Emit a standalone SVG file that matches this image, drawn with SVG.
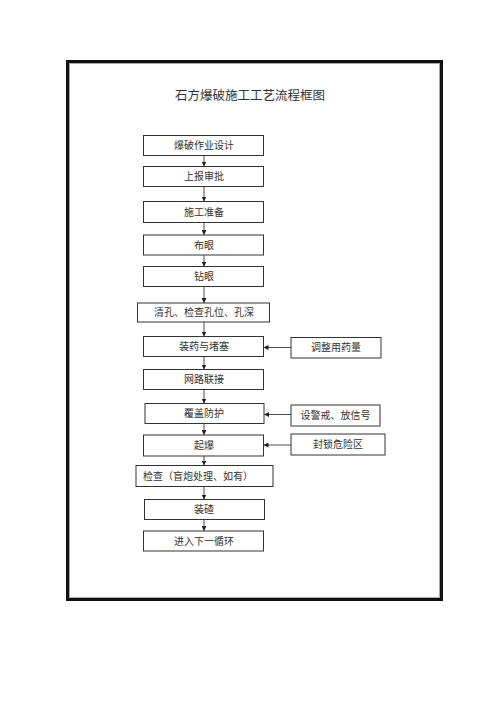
<svg xmlns="http://www.w3.org/2000/svg" width="500" height="708" viewBox="0 0 500 708">
<defs>
<marker id="ah" viewBox="0 0 6 6" refX="6" refY="3" markerWidth="5" markerHeight="5" orient="auto" markerUnits="userSpaceOnUse">
<path d="M0,0 L6,3 L0,6 Z" fill="#222"/>
</marker>
</defs>
<style>
.box{fill:#fff;stroke:#333;stroke-width:1}
.t{font-family:"Liberation Serif","Noto Sans CJK SC",serif;font-size:10px;fill:#333;text-anchor:middle;dominant-baseline:central}
.tl{text-anchor:start}
.c{stroke:#222;stroke-width:0.8;fill:none;marker-end:url(#ah)}
</style>
<rect x="0" y="0" width="500" height="708" fill="#fff"/>
<rect x="67.5" y="61.5" width="374" height="538" fill="none" stroke="#111" stroke-width="3"/>
<rect x="69.5" y="63.5" width="370" height="534" fill="none" stroke="#aaa" stroke-width="1"/>
<text x="250" y="96" class="t" style="font-size:12.5px">石方爆破施工工艺流程框图</text>
<g id="connectors">
<line class="c" x1="204" y1="155.5" x2="204" y2="166.5"/>
<line class="c" x1="204" y1="186.5" x2="204" y2="201.5"/>
<line class="c" x1="204" y1="222.5" x2="204" y2="235"/>
<line class="c" x1="204" y1="255" x2="204" y2="266.5"/>
<line class="c" x1="204" y1="286.5" x2="204" y2="303"/>
<line class="c" x1="204" y1="322" x2="204" y2="336.5"/>
<line class="c" x1="204" y1="356.5" x2="204" y2="369.5"/>
<line class="c" x1="204" y1="389.5" x2="204" y2="403.5"/>
<line class="c" x1="204" y1="423.5" x2="204" y2="435"/>
<line class="c" x1="204" y1="456" x2="204" y2="465.5"/>
<line class="c" x1="204" y1="486.5" x2="204" y2="499.5"/>
<line class="c" x1="204" y1="519.5" x2="204" y2="531"/>
<line class="c" x1="291" y1="347.5" x2="263.5" y2="347.5"/>
<line class="c" x1="291" y1="414.5" x2="264" y2="414.5"/>
<line class="c" x1="291" y1="445" x2="263.5" y2="445"/>
</g>
<g id="n1"><rect class="box" x="143.5" y="135.5" width="120" height="20"/><text class="t" x="204" y="145.5">爆破作业设计</text></g>
<g id="n2"><rect class="box" x="143.5" y="166.5" width="120" height="20"/><text class="t" x="204" y="176.5">上报审批</text></g>
<g id="n3"><rect class="box" x="143.5" y="201.5" width="120" height="21"/><text class="t" x="204" y="212">施工准备</text></g>
<g id="n4"><rect class="box" x="143.5" y="235" width="120" height="20"/><text class="t" x="204" y="245">布眼</text></g>
<g id="n5"><rect class="box" x="143.5" y="266.5" width="120" height="20"/><text class="t" x="204" y="276.5">钻眼</text></g>
<g id="n6"><rect class="box" x="137.5" y="303" width="132" height="19"/><text class="t" x="204" y="312.5">清孔、检查孔位、孔深</text></g>
<g id="n7"><rect class="box" x="143.5" y="336.5" width="120" height="20"/><text class="t" x="204" y="346.5">装药与堵塞</text></g>
<g id="n8"><rect class="box" x="143.5" y="369.5" width="120" height="20"/><text class="t" x="204" y="379.5">网路联接</text></g>
<g id="n9"><rect class="box" x="145" y="403.5" width="119" height="20"/><text class="t" x="204" y="413.5">覆盖防护</text></g>
<g id="n10"><rect class="box" x="143.5" y="435" width="120" height="21"/><text class="t" x="204" y="445.5">起爆</text></g>
<g id="n11"><rect class="box" x="136" y="465.5" width="137" height="21"/><text class="t tl" x="143" y="476">检查（盲炮处理、如有）</text></g>
<g id="n12"><rect class="box" x="144.5" y="499.5" width="120" height="20"/><text class="t" x="204" y="509.5">装碴</text></g>
<g id="n13"><rect class="box" x="143.5" y="531" width="120" height="20"/><text class="t" x="204" y="541">进入下一循环</text></g>
<g id="r1"><rect class="box" x="291" y="337.5" width="90" height="20.5"/><text class="t" x="336" y="347.8">调整用药量</text></g>
<g id="r2"><rect class="box" x="291" y="405" width="89" height="21"/><text class="t" x="335.5" y="415.5">设警戒、放信号</text></g>
<g id="r3"><rect class="box" x="291" y="434" width="94" height="21"/><text class="t" x="338" y="444.5">封锁危险区</text></g>
</svg>
